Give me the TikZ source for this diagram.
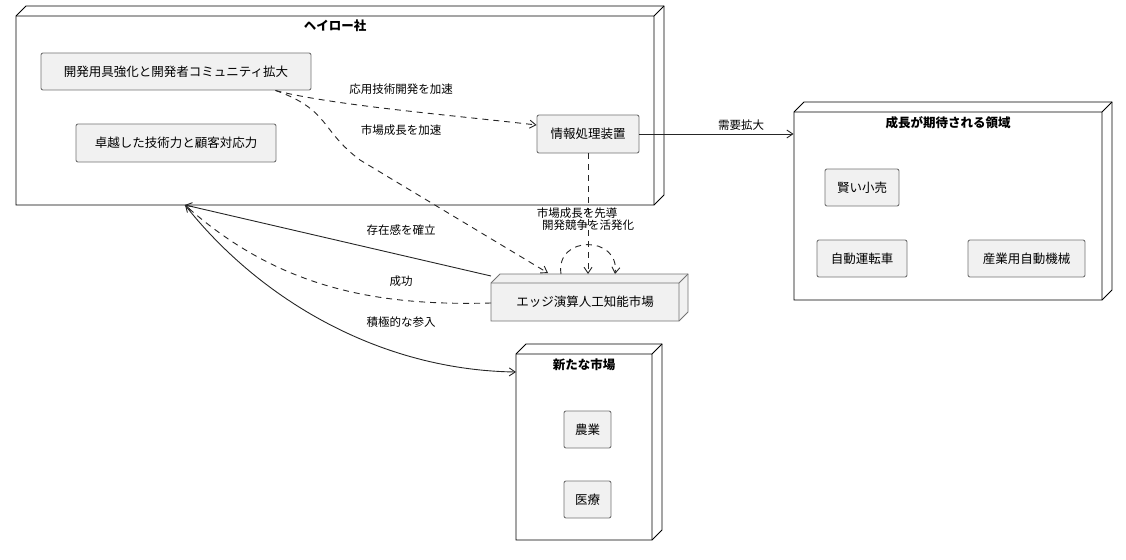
\documentclass[tikz,border=0pt]{standalone}
\usepackage{fontspec}
\setmainfont{Noto Sans CJK JP}
\usetikzlibrary{arrows.meta}
\definecolor{boxfill}{HTML}{F1F1F1}
\begin{document}
\begin{tikzpicture}[x=1pt,y=-1pt,line width=0.9pt,
  box/.style={draw=black!55,fill=boxfill,rounded corners=2pt,font=\fontsize{12.5}{14}\selectfont,inner sep=0pt},
  lbl/.style={font=\fontsize{11.5}{13}\selectfont,fill=white,inner sep=1pt},
  ttl/.style={font=\bfseries\fontsize{12.5}{14}\selectfont},
  dep/.style={draw=black!85,-{Straight Barb[length=6pt,width=8pt]}},
  dsh/.style={dep,dash pattern=on 6pt off 5pt}]
\useasboundingbox (0,0) rectangle (1126,559);
\newcommand{\cube}[5]{% x1,y1,x2,y2,d
  \draw[fill=white] (#1,#2) -- (#1+#5,#2-#5) -- (#3+#5,#2-#5) -- (#3+#5,#4-#5) -- (#3,#4) -- (#1,#4) -- cycle;
  \draw (#1,#2) -- (#3,#2) -- (#3,#4) (#3,#2) -- (#3+#5,#2-#5);}
\cube{16}{16}{654}{205}{10}
\cube{794}{112}{1102}{300}{10}
\cube{516}{354}{652}{540}{10}
\node[ttl] (t1) at (335,26) {ヘイロー社};
\node[ttl] (t2) at (948,123) {成長が期待される領域};
\node[ttl] (t3) at (584,365) {新たな市場};
\node (co) at (335,110) [minimum width=638pt,minimum height=189pt] {};
\node (gr) at (948,206) [minimum width=308pt,minimum height=188pt] {};
\node (nm) at (584,447) [minimum width=136pt,minimum height=186pt] {};
% edge market
\draw[fill=boxfill,draw=black!55] (491,283) -- (500,274) -- (688,274) -- (688,312) -- (679,321) -- (491,321) -- cycle;
\draw[draw=black!55] (491,283) -- (679,283) -- (679,321) (679,283) -- (688,274);
\node[font=\fontsize{12.5}{14}\selectfont] (em) at (585,302) {エッジ演算人工知能市場};
\coordinate (emt) at (588,274);
\node[box,minimum width=270pt,minimum height=37pt] (a) at (176,71.5) {開発用具強化と開発者コミュニティ拡大};
\node[box,minimum width=200pt,minimum height=38pt] (b) at (176,143) {卓越した技術力と顧客対応力};
\node[box,minimum width=102pt,minimum height=38pt] (c) at (588,134) {情報処理装置};
\node[box,minimum width=74pt,minimum height=37pt] (d) at (862,187.5) {賢い小売};
\node[box,minimum width=90pt,minimum height=37pt] (e) at (862,258.5) {自動運転車};
\node[box,minimum width=117pt,minimum height=37pt] (f) at (1026.5,258.5) {産業用自動機械};
\node[box,minimum width=47pt,minimum height=37pt] (g) at (587.5,429.5) {農業};
\node[box,minimum width=47pt,minimum height=37pt] (h) at (587.5,499.5) {医療};
% edges
\draw[dsh] (a.south east)++(-36,0) .. controls (330,105) and (450,115) .. (c.west|-0,125);
\node[lbl] at (401,89) {応用技術開発を加速};
\draw[dsh] (a.south east)++(-36,0) .. controls (330,110) and (320,130) .. (360,160) -- (548,273);
\node[lbl] at (401,130) {市場成長を加速};
\draw[dep] (c.east) -- (gr.west|-c.east);
\node[lbl] at (741,125) {需要拡大};
\draw[dsh] (c.south) -- (emt);
\draw[dsh] (561,274) .. controls (555,235) and (620,235) .. (615,274);
\node[font=\fontsize{11.5}{13}\selectfont,inner sep=0pt] at (577,213) {市場成長を先導};
\node[font=\fontsize{11.5}{13}\selectfont,inner sep=0pt] at (588,225) {開発競争を活発化};
\draw[dep] (491,276) -- (185,205);
\node[lbl] at (401,230) {存在感を確立};
\draw[dsh] (491,303) .. controls (380,306) and (280,290) .. (185,205);
\node[lbl] at (401,281) {成功};
\draw[dep] (185,205) .. controls (260,300) and (380,370) .. (516,372);
\node[lbl] at (401,322) {積極的な参入};
\end{tikzpicture}
\end{document}
